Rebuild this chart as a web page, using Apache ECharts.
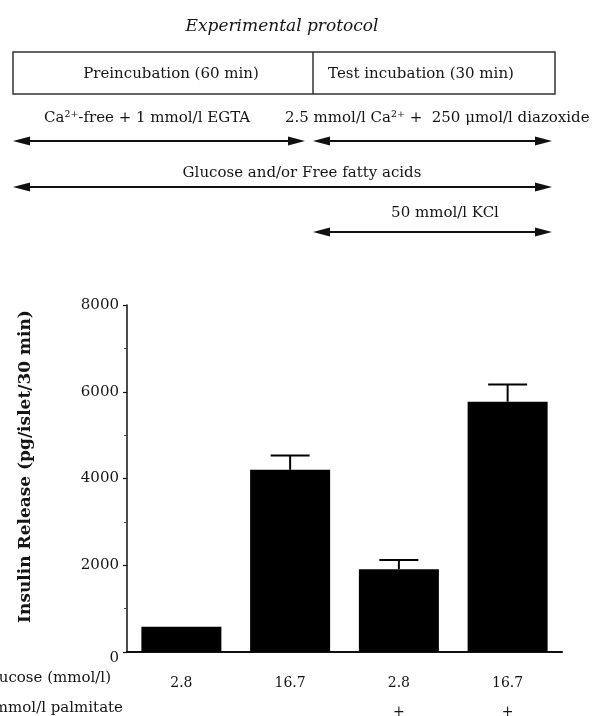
<!DOCTYPE html>
<html>
<head>
<meta charset="utf-8">
<script src="https://cdn.jsdelivr.net/npm/echarts@6/dist/echarts.min.js"></script>
<style>
html,body{margin:0;padding:0;background:#fff;}
#chart{width:597px;height:716px;}
</style>
</head>
<body>
<div id="chart"></div>
<script>
// ---- data ----
const glucose = ['2.8', '16.7', '2.8', '16.7'];
const palmitate = ['', '', '+', '+'];
const insulinRelease = [580, 4200, 1910, 5770];
const insulinSem = [0, 330, 210, 400];
const yMin = 0, yMax = 8000, yStep = 2000;

const SERIF = '"DejaVu Serif", "Liberation Serif", serif';
const INK = '#111';
const TXT = '#151515';

const chart = echarts.init(document.getElementById('chart'), null, {renderer: 'canvas'});

function arrowGraphics(x1, x2, y, leftHead, rightHead) {
  const els = [];
  const hl = 17, hw = 4.5;
  els.push({type: 'line', shape: {x1: x1 + (leftHead ? hl - 2 : 0), y1: y, x2: x2 - (rightHead ? hl - 2 : 0), y2: y},
    style: {stroke: INK, lineWidth: 2}});
  if (leftHead) els.push({type: 'polygon', shape: {points: [[x1, y], [x1 + hl, y - hw], [x1 + hl, y + hw]]}, style: {fill: INK}});
  if (rightHead) els.push({type: 'polygon', shape: {points: [[x2, y], [x2 - hl, y - hw], [x2 - hl, y + hw]]}, style: {fill: INK}});
  return els;
}

const txt = (x, y, text, opts) => Object.assign({
  type: 'text', x: x, y: y,
  style: Object.assign({text: text, font: '15px ' + SERIF, fill: TXT, textAlign: 'center', textVerticalAlign: 'middle'}, opts || {})
});

const graphics = [
  txt(282, 27, 'Experimental protocol', {font: 'italic 17px ' + SERIF}),
  {type: 'rect', shape: {x: 13, y: 52, width: 542, height: 42}, style: {fill: 'none', stroke: '#333', lineWidth: 1.5}},
  {type: 'line', shape: {x1: 313, y1: 52, x2: 313, y2: 94}, style: {stroke: '#333', lineWidth: 1.5}},
  txt(171, 74, 'Preincubation (60 min)'),
  txt(421, 74, 'Test incubation (30 min)'),
  txt(44, 118, 'Ca²⁺-free + 1 mmol/l EGTA', {textAlign: 'left'}),
  txt(285, 118, '2.5 mmol/l Ca²⁺ +  250 μmol/l diazoxide', {textAlign: 'left'}),
  txt(302, 173, 'Glucose and/or Free fatty acids'),
  txt(445, 213, '50 mmol/l KCl'),
  ...arrowGraphics(13, 305, 141, true, true),
  ...arrowGraphics(313, 552, 141, true, true),
  ...arrowGraphics(13, 552, 187, true, true),
  ...arrowGraphics(313, 552, 232, true, true),
  txt(111, 678, 'Glucose (mmol/l)', {textAlign: 'right', font: '15px ' + SERIF}),
  txt(123, 708, '0.5 mmol/l palmitate', {textAlign: 'right', font: '15px ' + SERIF})
];

const option = {
  backgroundColor: '#fff',
  animation: false,
  grid: {left: 127, right: 35, top: 305, bottom: 64, containLabel: false, outerBoundsMode: 'none'},
  xAxis: {
    type: 'category',
    data: glucose,
    axisLine: {lineStyle: {color: INK, width: 2}},
    axisTick: {show: false},
    axisLabel: {
      margin: 17,
      formatter: (v, i) => v + '\n' + (palmitate[i] || ' '),
      fontFamily: SERIF, fontSize: 14, color: TXT, lineHeight: 29
    },
    splitLine: {show: false}
  },
  yAxis: {
    type: 'value',
    min: yMin, max: yMax, interval: yStep,
    name: 'Insulin Release (pg/islet/30 min)',
    nameLocation: 'middle',
    nameGap: 93,
    nameRotate: 90,
    nameTextStyle: {fontFamily: SERIF, fontSize: 17, fontWeight: 'bold', color: TXT, padding: [0, 0, 0, 24]},
    axisLine: {show: true, lineStyle: {color: INK, width: 1.5}},
    axisTick: {show: true, length: 4, lineStyle: {color: INK, width: 1.2}},
    minorTick: {show: true, splitNumber: 2, length: 3, lineStyle: {color: '#444', width: 1}},
    splitLine: {show: false},
    axisLabel: {
      margin: 8, fontFamily: SERIF, fontSize: 15, color: TXT,
      formatter: v => v === 0 ? '{z|0}' : String(v),
      rich: {z: {fontFamily: SERIF, fontSize: 15, color: TXT, padding: [12, 0, 0, 0]}}
    }
  },
  series: [
    {
      type: 'bar',
      data: insulinRelease,
      barWidth: 80,
      itemStyle: {color: '#000'},
      z: 2
    },
    {
      type: 'custom',
      data: insulinRelease.map((v, i) => [i, v, insulinSem[i]]),
      z: 3,
      renderItem: function (params, api) {
        const i = api.value(0), m = api.value(1), e = api.value(2);
        if (!e) return null;
        const base = api.coord([i, m]);
        const top = api.coord([i, m + e]);
        const half = 19.5;
        return {
          type: 'group',
          children: [
            {type: 'line', shape: {x1: base[0], y1: base[1], x2: top[0], y2: top[1]}, style: {stroke: '#000', lineWidth: 2}},
            {type: 'line', shape: {x1: top[0] - half, y1: top[1], x2: top[0] + half, y2: top[1]}, style: {stroke: '#000', lineWidth: 2}}
          ]
        };
      }
    }
  ],
  graphic: graphics
};
chart.setOption(option);
</script>
</body>
</html>
